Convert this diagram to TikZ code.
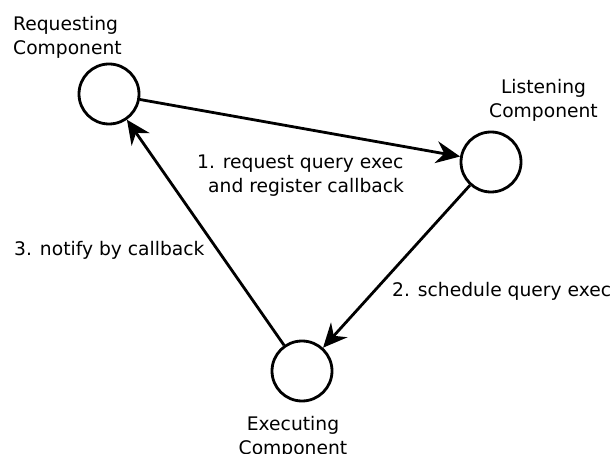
\documentclass[tikz,border=0pt]{standalone}
\usepackage{fontspec}
\setmainfont{DejaVu Sans}
\usetikzlibrary{arrows.meta}

\begin{document}
\begin{tikzpicture}  [
        x = 1pt, y = -1pt,
        comp/.style = {circle, draw, line width=2.8pt, minimum size=60pt, inner sep=0pt},
        tag/.style  = {font=\fontsize{18.7}{24}\selectfont, inner sep=0pt},
        flow/.style = {line width=2.8pt, -{Stealth[length=24pt, width=22pt, inset=8pt]}}
    ]
    \useasboundingbox (0,0) rectangle (613,454);

    % components
    \node[comp] (req) at (109,94)  {};
    \node[comp] (lis) at (491,162) {};
    \node[comp] (exe) at (302,371) {};

    \node[tag, align=left,   anchor=base west] (req-name) at (13,55)     {Requesting\\Component};
    \node[tag, align=center, anchor=base]      (lis-name) at (543.5,118) {Listening\\Component};
    \node[tag, align=center, anchor=base]      (exe-name) at (293,454)   {Executing\\Component};

    % messages
    \draw[flow] (req) -- (lis);
    \draw[flow] (lis) -- (exe);
    \draw[flow] (exe) -- (req);

    \node[tag, align=left, anchor=base west] (msg1) at (197,193) {1. request query exec\\\hspace*{11pt}and register callback};
    \node[tag, anchor=base west] (msg2) at (392,297) {2. schedule query exec};
    \node[tag, anchor=base west] (msg3) at (14,256)  {3. notify by callback};

\end{tikzpicture}
\end{document}
